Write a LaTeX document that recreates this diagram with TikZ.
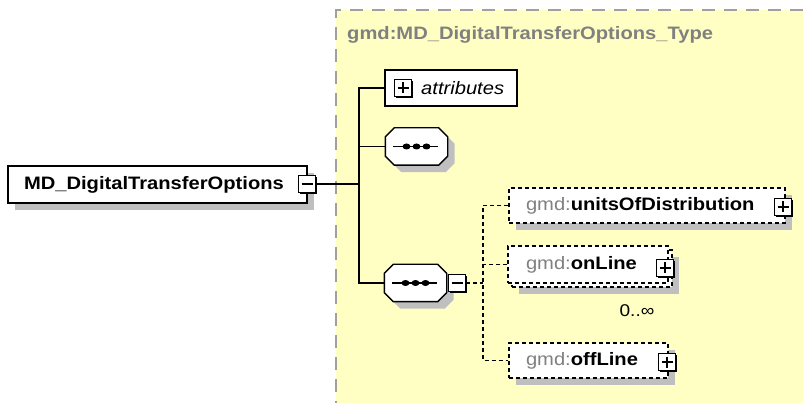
\documentclass[tikz,border=0pt]{standalone}
\usepackage{fontspec}
\setmainfont{Liberation Sans}[FakeStretch=1.12]
\usetikzlibrary{shadows}

\definecolor{typebg}{RGB}{255,255,195}
\definecolor{prefixgray}{RGB}{128,128,128}
\definecolor{bordergray}{RGB}{160,160,160}

\tikzset{
	elem/.style={draw, fill=white, line width=1.4pt, inner xsep=16pt, inner ysep=0pt, align=left,
		font=\fontsize{18}{20}\selectfont\bfseries,
		general shadow={fill=black!25, shadow xshift=7pt, shadow yshift=-7pt}},
	optelem/.style={elem, dash pattern=on 4pt off 3pt},
	toggle/.style={draw, fill=white, line width=1.4pt, minimum size=17pt, inner sep=0pt,
		general shadow={fill=black, shadow xshift=1.8pt, shadow yshift=-1.8pt}},
	plusbox/.style={toggle, path picture={
		\draw[line width=1.4pt] ([xshift=3pt]path picture bounding box.west) -- ([xshift=-3pt]path picture bounding box.east)
			([yshift=-3pt]path picture bounding box.north) -- ([yshift=3pt]path picture bounding box.south);}},
	minusbox/.style={toggle, path picture={
		\draw[line width=1.4pt] ([xshift=3pt]path picture bounding box.west) -- ([xshift=-3pt]path picture bounding box.east);}},
	seq/.style={rectangle, minimum width=62pt, minimum height=37pt, inner sep=0pt},
	seqshadow/.style={fill=black!25, transform canvas={shift={(7pt,-7pt)}}},
	link/.style={line width=1.5pt},
	optlink/.style={line width=1.4pt, dash pattern=on 4pt off 3pt},
}

\begin{document}
\begin{tikzpicture}[x=1pt, y=-1pt]

	\useasboundingbox (0,0) rectangle (803,403);

	\fill[typebg] (336,10) rectangle (803,403);
	\draw[bordergray, line width=1.8pt, dash pattern=on 13pt off 9pt] (803,10) -- (336,10) -- (336,403);
	\node[anchor=west, inner sep=0pt, text=prefixgray, font=\fontsize{18}{20}\selectfont\bfseries] (title) at (347,35) {gmd:MD\_DigitalTransferOptions\_Type};

	\node[elem, minimum width=299pt, minimum height=37pt, text width=267pt] (root) at (157.5,184.5) {MD\_DigitalTransferOptions};
	\node[minusbox] (rootminus) at (307,184) {};

	\node[draw, fill=white, line width=1.4pt, minimum width=132pt, minimum height=36pt] (attr) at (451,88) {};
	\node[plusbox] (attrplus) at (403,88) {};
	\node[anchor=west, inner sep=0pt, font=\fontsize{18}{20}\selectfont\itshape] (attrtext) at (421,88) {attributes};

	\node[seq] (seqA) at (416.5,146.5) {};
	\node[seq] (seqB) at (415.5,283) {};
	\foreach \s in {seqA,seqB} {
		\fill[seqshadow] ([xshift=9pt]\s.north west) -- ([xshift=-9pt]\s.north east) -- ([yshift=-9pt]\s.north east)
			-- ([yshift=9pt]\s.south east) -- ([xshift=-9pt]\s.south east) -- ([xshift=9pt]\s.south west)
			-- ([yshift=9pt]\s.south west) -- ([yshift=-9pt]\s.north west) -- cycle;
		\filldraw[fill=white, line width=1.4pt] ([xshift=9pt]\s.north west) -- ([xshift=-9pt]\s.north east) -- ([yshift=-9pt]\s.north east)
			-- ([yshift=9pt]\s.south east) -- ([xshift=-9pt]\s.south east) -- ([xshift=9pt]\s.south west)
			-- ([yshift=9pt]\s.south west) -- ([yshift=-9pt]\s.north west) -- cycle;
		\draw[line width=1.5pt] ([xshift=8pt]\s.west) -- ([xshift=-10pt]\s.east);
		\foreach \dx in {-10,0,10}
			\fill ([xshift=\dx pt]\s.center) ellipse (4pt and 3pt);
	}
	\node[minusbox] (seqBminus) at (457,283) {};

	\node[optelem, minimum width=276pt, minimum height=35pt, text width=242pt] (units) at (647,205.5) {{\color{prefixgray}\mdseries gmd:}unitsOfDistribution};
	\node[plusbox] (unitsplus) at (783,207) {};

	\node[optelem, minimum width=160pt, minimum height=37pt] (onlineback) at (592,268.5) {};
	\node[draw, fill=white, line width=1.4pt, dash pattern=on 4pt off 3pt, inner xsep=18pt, inner ysep=0pt, align=left,
		font=\fontsize{18}{20}\selectfont\bfseries, minimum width=160pt, minimum height=37pt, text width=124pt] (online) at (588,264.5) {{\color{prefixgray}\mdseries gmd:}onLine};
	\node[plusbox] (onlineplus) at (665,268) {};
	\node[font=\fontsize{17}{19}\selectfont, inner sep=0pt] (card) at (637,311) {0..∞};

	\node[optelem, minimum width=159pt, minimum height=35pt, text width=125pt] (offline) at (588.5,360.5) {{\color{prefixgray}\mdseries gmd:}offLine};
	\node[plusbox] (offlineplus) at (667,362) {};

	\coordinate (trunk) at (359,184);
	\coordinate (fork) at (483,283);

	\draw[link] (rootminus.east) -- (trunk);
	\draw[link] (attr.west) -- (attr.west -| trunk) -- (seqB.west -| trunk) -- (seqB.west);
	\draw[link] (seqA.west) -- (seqA.west -| trunk);
	\draw[optlink] (seqBminus.east) -- (fork);
	\draw[optlink] (units.west) -- (units.west -| fork) -- (offline.west -| fork) -- (offline.west);
	\draw[optlink] (online.west) -- (online.west -| fork);
\end{tikzpicture}
\end{document}
